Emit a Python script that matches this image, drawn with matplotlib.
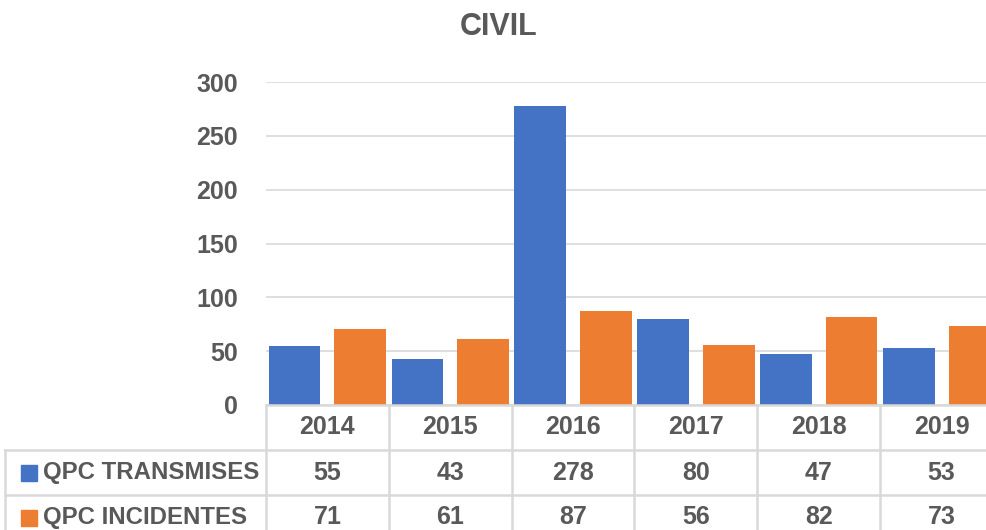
import matplotlib.pyplot as plt
from matplotlib.patches import Rectangle
import numpy as np

# Données
years = ["2014", "2015", "2016", "2017", "2018", "2019"]
transmises = [55, 43, 278, 80, 47, 53]
incidentes = [71, 61, 87, 56, 82, 73]
series_names = ["QPC TRANSMISES", "QPC INCIDENTES"]
colors = ["#4472C4", "#ED7D31"]

TXT = "#595959"
GRID = "#D9D9D9"
plt.rcParams["font.family"] = ["Liberation Sans", "DejaVu Sans"]
plt.rcParams["font.weight"] = "bold"

fig = plt.figure(figsize=(9.87, 5.30), dpi=100)
ax = fig.add_axes([266 / 987, 125 / 530, 737 / 987, 323 / 530])

x = np.arange(len(years))
w = 0.42
ax.bar(x - 0.267, transmises, w, color=colors[0], zorder=2)
ax.bar(x + 0.267, incidentes, w, color=colors[1], zorder=2)

ax.set_xlim(-0.5, len(years) - 0.5)
ax.set_ylim(0, 300)
ax.set_yticks(range(0, 301, 50))
ax.set_xticks([])
ax.tick_params(axis="y", length=0, pad=20, labelsize=18, labelcolor=TXT)
for lab in ax.get_yticklabels():
    lab.set_fontweight("bold")
ax.grid(axis="y", color=GRID, lw=1.2, zorder=0)
for s in ax.spines.values():
    s.set_visible(False)

fig.text(499 / 987, 1 - 27 / 530, "CIVIL", ha="center", va="center",
         fontsize=22, fontweight="bold", color=TXT)

# Tableau de données sous le graphique
row_h = 45 / 323
left = (5 - 266) / 737
tr = ax.get_xaxis_transform()
lkw = dict(color=GRID, lw=1.8, clip_on=False, zorder=3)

ax.plot([0, 1.1], [0, 0], transform=ax.transAxes, **lkw)
for k in (1, 2):
    ax.plot([left, 1.1], [-k * row_h, -k * row_h], transform=ax.transAxes, **lkw)
for b in np.arange(len(years) + 1) - 0.5:
    ax.plot([b, b], [0, -1], transform=tr, **lkw)
ax.plot([left, left], [-row_h, -1], transform=ax.transAxes, **lkw)

for i, yr in enumerate(years):
    ax.text(i, -0.5 * row_h, yr, transform=tr, ha="center", va="center",
            fontsize=18, fontweight="bold", color=TXT, clip_on=False)
    for k, vals in enumerate([transmises, incidentes]):
        ax.text(i, -(k + 1.5) * row_h, str(vals[i]), transform=tr, ha="center",
                va="center", fontsize=18, fontweight="bold", color=TXT, clip_on=False)

for k, name in enumerate(series_names):
    yc = -(k + 1.5) * row_h
    ax.add_patch(Rectangle(((21 - 266) / 737, yc - 8 / 323), 16 / 737, 16 / 323,
                           transform=ax.transAxes, color=colors[k], clip_on=False))
    ax.text((43 - 266) / 737, yc, name, transform=ax.transAxes, ha="left", va="center",
            fontsize=17.3, fontweight="bold", color=TXT, clip_on=False)

fig.savefig("out.png", dpi=100)
